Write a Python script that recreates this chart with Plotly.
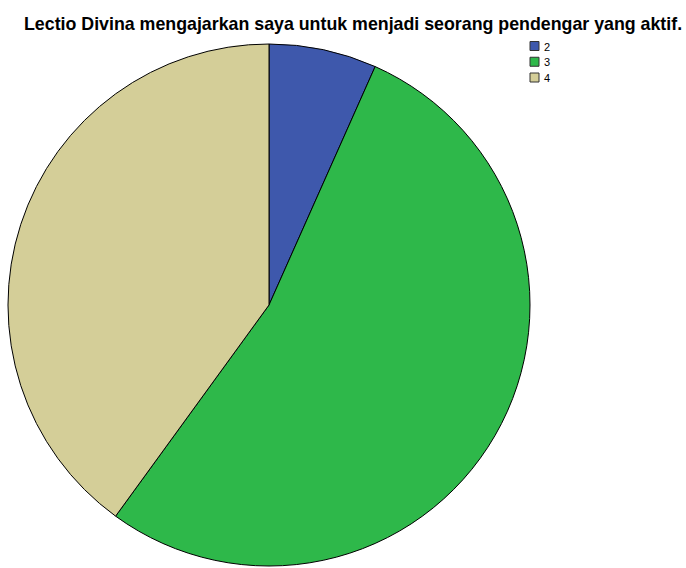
import plotly.graph_objects as go

categories = ["2", "3", "4"]
counts = [1, 8, 6]
colors = ["#3E58AC", "#2EB84A", "#D4CE98"]
title_text = "Lectio Divina mengajarkan saya untuk menjadi seorang pendengar yang aktif."

W, H = 686, 568

# Pie geometry in pixels: centre and radius
cx, cy, r = 269, 305, 261

fig = go.Figure(
    go.Pie(
        labels=categories,
        values=counts,
        sort=False,
        direction="clockwise",
        rotation=0,
        marker=dict(colors=colors, line=dict(color="#000000", width=1)),
        textinfo="none",
        hoverinfo="label+value+percent",
        showlegend=False,
        domain=dict(x=[(cx - r) / W, (cx + r) / W],
                    y=[(H - cy - r) / H, (H - cy + r) / H]),
    )
)

# Compact legend drawn as small boxes with labels
shapes = []
annotations = []
lx, ly0, step, box = 530, 41.5, 15.75, 9
for i, (lab, col) in enumerate(zip(categories, colors)):
    top = ly0 + i * step
    shapes.append(dict(
        type="rect", xref="paper", yref="paper",
        x0=lx / W, x1=(lx + box) / W,
        y0=1 - (top + box) / H, y1=1 - top / H,
        fillcolor=col, line=dict(color="#333333", width=1),
    ))
    annotations.append(dict(
        text=lab, xref="paper", yref="paper",
        x=(lx + box + 3) / W, y=1 - (top + box / 2 + 0.5) / H,
        xanchor="left", yanchor="middle", showarrow=False,
        font=dict(family="Liberation Sans, Arial, sans-serif", size=11, color="#000000"),
    ))

annotations.append(dict(
    text="<b>" + title_text + "</b>", xref="paper", yref="paper",
    x=353 / W, y=1 - 24 / H, xanchor="center", yanchor="middle", showarrow=False,
    font=dict(family="Liberation Sans, Arial, sans-serif", size=17.8, color="#000000"),
))

fig.update_layout(
    width=W, height=H,
    margin=dict(l=0, r=0, t=0, b=0),
    paper_bgcolor="#FFFFFF",
    plot_bgcolor="#FFFFFF",
    shapes=shapes,
    annotations=annotations,
)

fig.write_html("out.html")
